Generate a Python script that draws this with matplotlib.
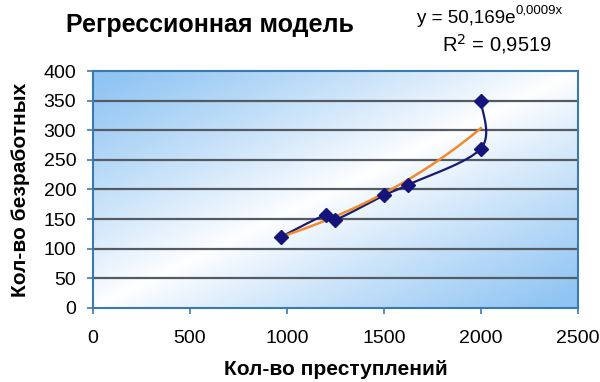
import numpy as np
import matplotlib.pyplot as plt
from matplotlib.colors import LinearSegmentedColormap

plt.rcParams['font.family'] = ['Liberation Sans', 'DejaVu Sans']

# data
crimes = [970, 1200, 1250, 1500, 1625, 2000, 2000]
unemployed = [120, 157, 149, 190, 208, 269, 349]

# exponential trendline shown on the chart
trend_a = 50.169
trend_b = 0.0009

x_ticks = [0, 500, 1000, 1500, 2000, 2500]
y_ticks = [0, 50, 100, 150, 200, 250, 300, 350, 400]


def smooth_line(xs, ys, sx, sy, n=30):
    """Catmull-Rom curve through the points (like Excel's smoothed line), built in screen-like units."""
    p = np.column_stack([np.asarray(xs, float) / sx, np.asarray(ys, float) / sy])
    p = np.vstack([p[0], p, p[-1]])
    out = []
    t = np.linspace(0, 1, n)[:, None]
    for i in range(1, len(p) - 2):
        p0, p1, p2, p3 = p[i - 1], p[i], p[i + 1], p[i + 2]
        c1 = p1 + (p2 - p0) / 6
        c2 = p2 - (p3 - p1) / 6
        seg = ((1 - t) ** 3) * p1 + 3 * ((1 - t) ** 2) * t * c1 + 3 * (1 - t) * t ** 2 * c2 + t ** 3 * p2
        out.append(seg)
    out = np.vstack(out)
    return out[:, 0] * sx, out[:, 1] * sy


fig = plt.figure(figsize=(6, 3.82), dpi=100)
ax = fig.add_axes([0.155, 0.194, 0.808, 0.62])
ax.set_xlim(0, 2500)
ax.set_ylim(0, 400)

# diagonal blue-white-blue gradient background (top-left and bottom-right blue)
u, w = np.meshgrid(np.linspace(0, 1, 200), np.linspace(0, 1, 120))
g = np.abs((u + w) / 2 - 0.5) * 2.1
g = np.clip(g, 0, 1) ** 0.9
bg = LinearSegmentedColormap.from_list('bg', ['#ffffff', '#8fc4f3'])
ax.imshow(g, cmap=bg, extent=[0, 2500, 0, 400], origin='upper', aspect='auto',
          zorder=0, interpolation='bicubic')
ax.set_ylim(0, 400)

for yv in y_ticks[1:-1]:
    ax.axhline(yv, color='#555b63', lw=1.6, zorder=1)

# smoothed data line and markers
sx_, sy_ = smooth_line(crimes, unemployed, 2500 / 485, 400 / 237)
ax.plot(sx_, sy_, color='#1a1a6e', lw=1.6, zorder=3)
ax.plot(crimes, unemployed, ls='none', marker='D', ms=7, color='#14147a', zorder=4)

# exponential trendline
tx = np.linspace(min(crimes), max(crimes), 100)
ax.plot(tx, trend_a * np.exp(trend_b * tx), color='#f08a2c', lw=1.8, zorder=3.5)

ax.set_xticks(x_ticks)
ax.set_yticks(y_ticks)
ax.tick_params(axis='both', labelsize=14, color='#3a7ab0', length=4, width=1.2)
ax.tick_params(axis='y', pad=8)
ax.tick_params(axis='x', pad=12)
for s in ax.spines.values():
    s.set_color('#3a7ab0')
    s.set_linewidth(1.5)

ax.set_xlabel('Кол-во преступлений', fontsize=15, fontweight='bold', labelpad=9)
ax.set_ylabel('Кол-во безработных', fontsize=15, fontweight='bold', labelpad=10)

fig.text(0.35, 0.935, 'Регрессионная модель', fontsize=18, fontweight='bold',
         ha='center', va='center')
t1 = fig.text(0.695, 0.952, 'y = 50,169e', fontsize=13.5, ha='left', va='center')
ax.annotate('0,0009x', xy=(1, 0.6), xycoords=t1, fontsize=9.5, ha='left', va='bottom',
            annotation_clip=False)
fig.text(0.737, 0.885, 'R$^2$ = 0,9519', fontsize=14.5, ha='left', va='center')

fig.savefig('out.png', dpi=100)
